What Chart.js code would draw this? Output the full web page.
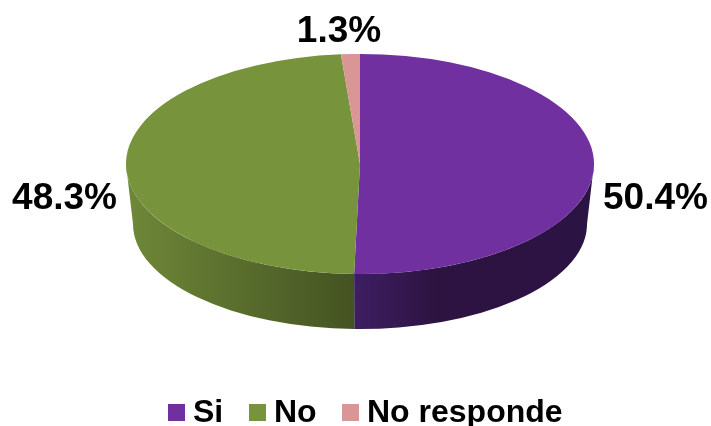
<!DOCTYPE html>
<html>
<head>
<meta charset="utf-8">
<script src="https://cdn.jsdelivr.net/npm/chart.js@4/dist/chart.umd.min.js"></script>
<style>
html,body{margin:0;padding:0;background:#fff;}
#wrap{position:relative;width:711px;height:426px;overflow:hidden;}
#legend{position:absolute;left:0;top:393px;height:33px;font:bold 32px "Liberation Sans",Arial,sans-serif;color:#000;}
#legend span{position:absolute;top:0;line-height:36px;white-space:nowrap;}
#legend i{position:absolute;top:11px;width:17px;height:17px;}
</style>
</head>
<body>
<div id="wrap">
<canvas id="pie" width="711" height="426"></canvas>
<div id="legend"></div>
</div>
<script>
var categories = ['Si','No','No responde'];
var values = [50.4,48.3,1.3];
var valueLabels = ['50.4%','48.3%','1.3%'];
var colors = ['#7030a0','#77933c','#d99694'];
var legendX = [168,249,342];

// top face ellipse and the (slightly smaller) bottom ellipse of the disc
var top3d = {x:360,y:164,rx:234,ry:110};
var bot3d = {x:360,y:224,rx:227,ry:105};
var labelPos = [[603,209,'left'],[117,209,'right'],[339,42,'center']];

function wallGradient(ctx,i){
    var g;
    if(i==0){
        g=ctx.createLinearGradient(354,0,594,0);
        g.addColorStop(0,'#3e1e62');
        g.addColorStop(0.35,'#2c1340');
        g.addColorStop(1,'#2b1344');
    }else{
        g=ctx.createLinearGradient(126,0,354,0);
        g.addColorStop(0,'#6f8838');
        g.addColorStop(1,'#445322');
    }
    return g;
}

var disc3d = {
    id:'disc3d',
    beforeDatasetsDraw:function(chart){
        var ctx=chart.ctx;
        var arcs=chart.getDatasetMeta(0).data;
        // side wall, only the part of each slice facing the viewer
        for(var i=0;i<arcs.length;i++){
            var a=Math.max(arcs[i].startAngle,0);
            var b=Math.min(arcs[i].endAngle,Math.PI);
            if(a>=b) continue;
            ctx.beginPath();
            ctx.ellipse(top3d.x,top3d.y,top3d.rx,top3d.ry,0,a,b);
            ctx.ellipse(bot3d.x,bot3d.y,bot3d.rx,bot3d.ry,0,b,a,true);
            ctx.closePath();
            ctx.fillStyle=wallGradient(ctx,i);
            ctx.fill();
        }
        // squash the pie itself into the top face
        var p=arcs[0];
        ctx.save();
        ctx.translate(top3d.x,top3d.y);
        ctx.scale(top3d.rx/p.outerRadius,top3d.ry/p.outerRadius);
        ctx.translate(-p.x,-p.y);
    },
    afterDatasetsDraw:function(chart){
        var ctx=chart.ctx;
        ctx.restore();
        ctx.fillStyle='#000';
        ctx.font='bold 37px "Liberation Sans", Arial, sans-serif';
        ctx.textBaseline='alphabetic';
        for(var i=0;i<valueLabels.length;i++){
            ctx.textAlign=labelPos[i][2];
            ctx.fillText(valueLabels[i],labelPos[i][0],labelPos[i][1]);
        }
    }
};

var htmlLegend = {
    id:'htmlLegend',
    afterUpdate:function(chart){
        var box=document.getElementById('legend');
        while(box.hasChildNodes()){
            box.removeChild(box.firstChild);
        }
        var items=chart.options.plugins.legend.labels.generateLabels(chart);
        items.forEach(function(item,i){
            var sq=document.createElement('i');
            sq.style.left=legendX[i]+'px';
            sq.style.background=item.fillStyle;
            box.append(sq);
            var s=document.createElement('span');
            s.style.left=(legendX[i]+25)+'px';
            s.textContent=item.text;
            box.append(s);
        });
    }
};

new Chart(document.getElementById('pie').getContext('2d'),{
    type:'pie',
    data:{
        labels:categories,
        datasets:[{
            data:values,
            backgroundColor:colors,
            borderWidth:0,
            clip:false
        }]
    },
    options:{
        responsive:false,
        animation:false,
        devicePixelRatio:1,
        plugins:{
            legend:{display:false},
            tooltip:{enabled:false}
        }
    },
    plugins:[disc3d,htmlLegend]
});
</script>
</body>
</html>
